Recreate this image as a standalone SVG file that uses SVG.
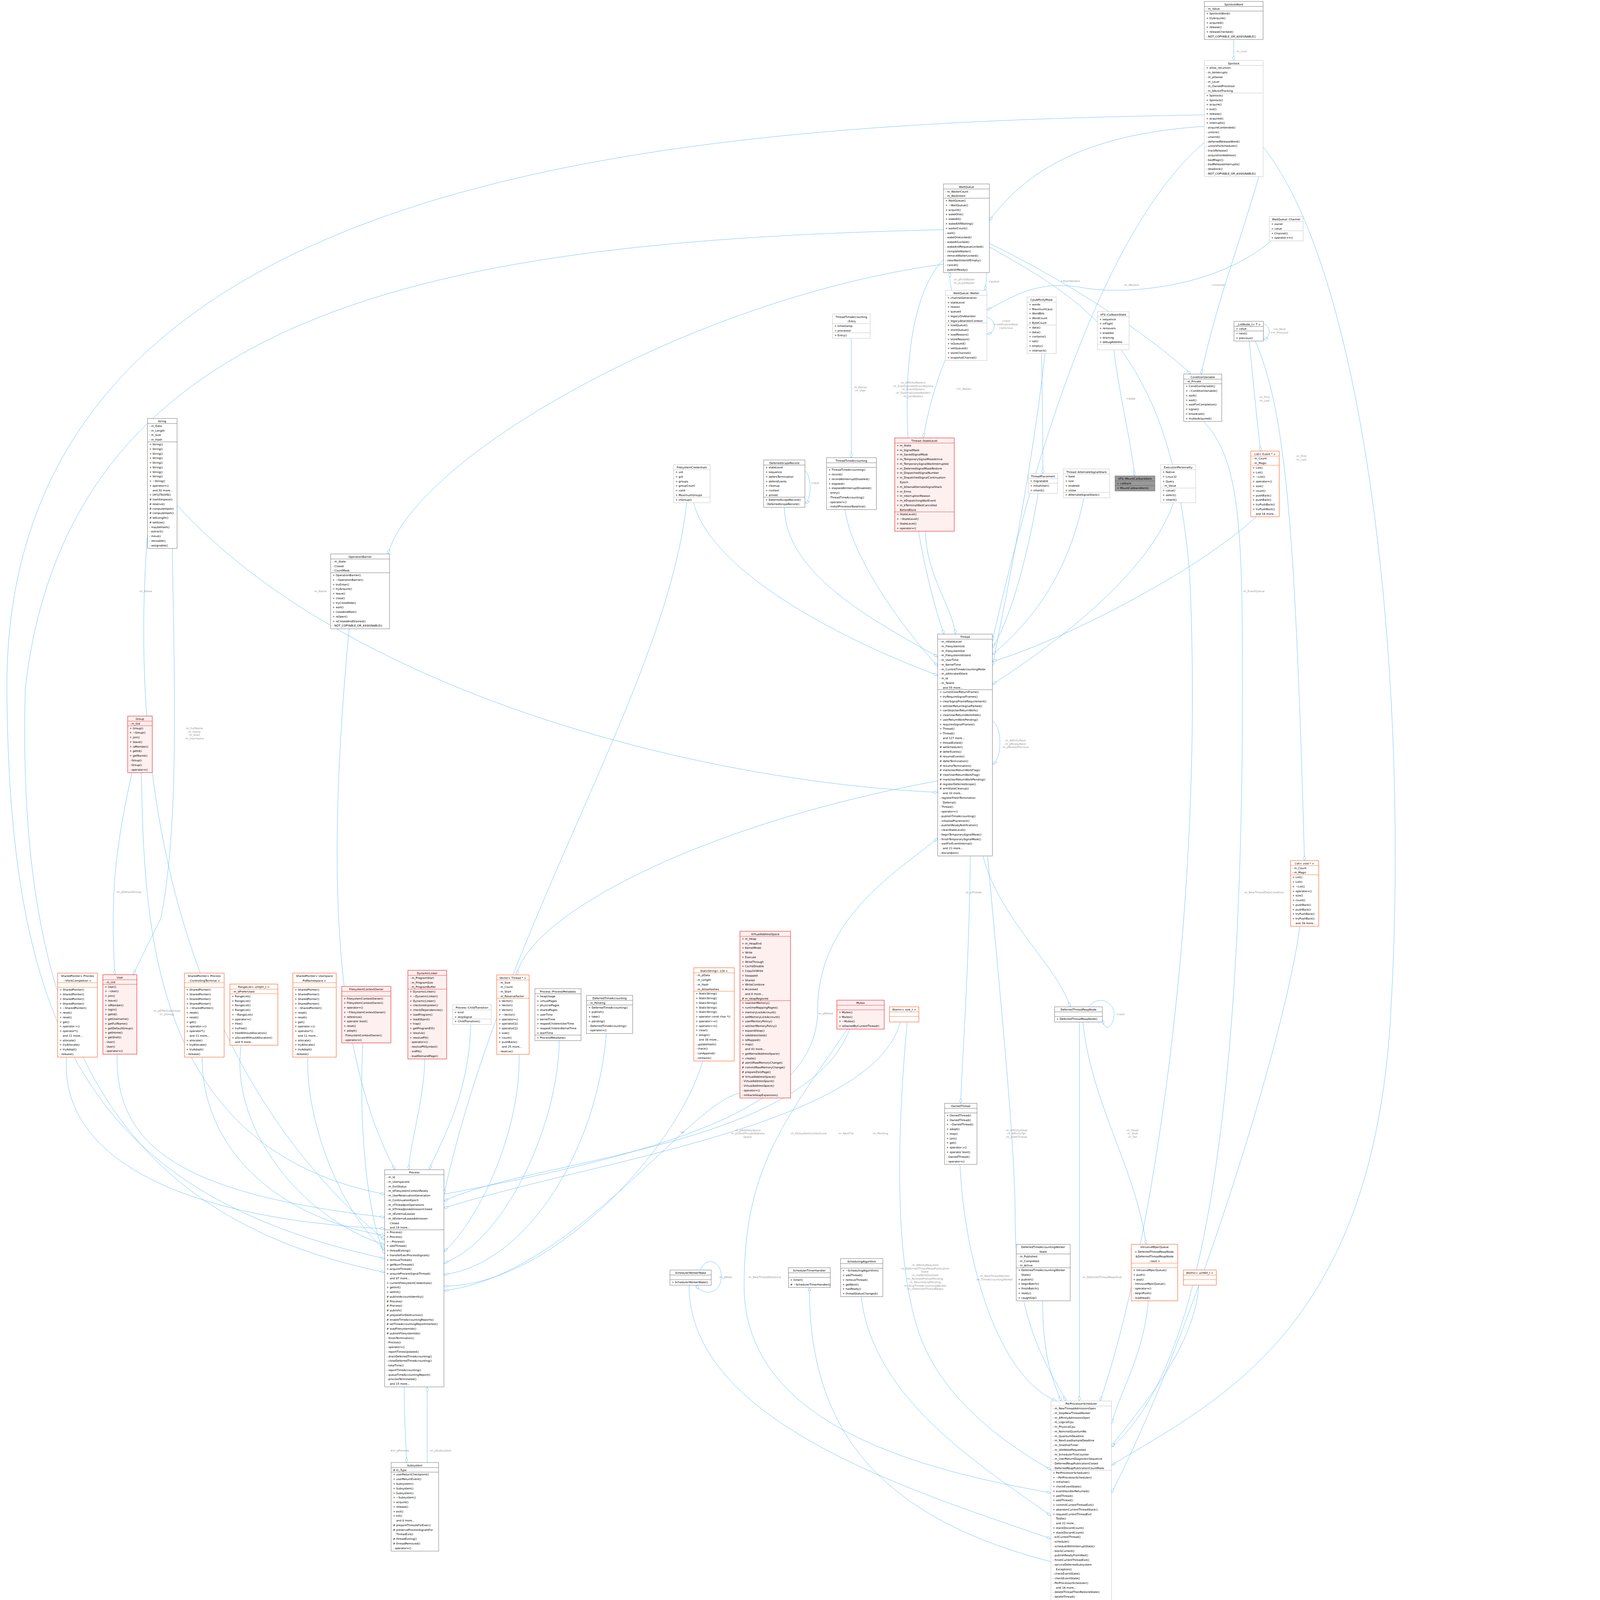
<svg xmlns="http://www.w3.org/2000/svg" width="6184" height="7011" viewBox="0 0 6184 7011" preserveAspectRatio="xMinYMin meet">
<style>
svg:root{width:3636px;height:4122px}
text{font-family:"DejaVu Sans","Liberation Sans",sans-serif;font-size:12px;fill:#000}
.t{text-anchor:middle}
.lb{fill:#9a9a9a;font-size:12px}
.lc{fill:#9a9a9a;font-size:12px;text-anchor:middle}
rect.n{fill:#fff;stroke:#666;stroke-width:1.5}
rect.l{fill:#fff;stroke:#bfbfbf;stroke-width:1.5}
rect.r{fill:#fff0f0;stroke:#f03030;stroke-width:2}
rect.o{fill:#fff;stroke:#ff6a33;stroke-width:2}
rect.g{fill:#999;stroke:#666;stroke-width:1.5}
line.sn{stroke:#666;stroke-width:1.5}
line.sl{stroke:#bfbfbf;stroke-width:1.5}
line.sr{stroke:#f03030;stroke-width:1.5}
line.so{stroke:#ff6a33;stroke-width:1.5}
line.sg{stroke:#666;stroke-width:1.5}
#edges path{fill:none;stroke:#63b8ff;stroke-width:1.5;marker-end:url(#d)}
#edges path.inh{marker-end:url(#tri)}
</style>
<defs>
<marker id="d" markerUnits="userSpaceOnUse" markerWidth="24" markerHeight="12" refX="22" refY="6" orient="auto"><path d="M1,6 L11,1 L22,6 L11,11 Z" fill="#fff" stroke="#63b8ff" stroke-width="1.5"/></marker>
<marker id="tri" markerUnits="userSpaceOnUse" markerWidth="16" markerHeight="14" refX="15" refY="7" orient="auto"><path d="M1,1 L15,7 L1,13 Z" fill="#fff" stroke="#63b8ff" stroke-width="1.5"/></marker>
</defs>
<rect width="6184" height="7011" fill="#fff"/>

<g id="edges">
<path d="M5372,172 L5372,263"/>
<path d="M5244,550 C4800,580 4500,700 4308,960"/>
<path d="M5244,620 C4800,1000 4500,2000 4321,2790"/>
<path d="M5244,500 C3000,540 20,700 30,3000 C40,4500 400,5200 1675,5480"/>
<path d="M5500,640 C5950,1200 6150,3000 6050,4500 C5950,5800 5300,6100 4840,6380"/>
<path d="M5500,700 C5420,1000 5300,1300 5230,1629"/>
<path d="M4295,1187 C4296,1220 4292,1240 4290,1264"/>
<path d="M4144,1264 C4135,1230 4135,1210 4137,1187"/>
<path d="M4297,1380 C4340,1395 4340,1445 4297,1455"/>
<path d="M5535,1049 C5300,1250 4900,1290 4700,1250 C4500,1220 4400,1300 4297,1350"/>
<path d="M4117,1565 C4060,1700 4030,1850 4020,1907"/>
<path d="M4108,1130 C3850,1400 3950,2300 4110,2761"/>
<path d="M4308,1060 C4600,1200 5000,1450 5185,1629"/>
<path d="M4308,1075 C4700,1300 5100,1500 5180,2500 C5250,4000 5000,5500 4790,6100"/>
<path d="M4108,1000 C2000,1050 300,1300 110,3000 C70,4500 500,5300 1675,5540"/>
<path d="M4108,1150 C3000,1300 1800,2000 1690,2412"/>
<path d="M4550,1539 C4500,2000 4400,2500 4321,2900"/>
<path d="M4535,1539 C4540,1800 4541,1950 4541,2062"/>
<path d="M4850,1523 C4870,1700 4930,1950 4940,2072"/>
<path d="M5501,1410 C5535,1420 5535,1470 5501,1478"/>
<path d="M5440,1485 C5460,1700 5480,1900 5490,1964"/>
<path d="M5466,1485 C5600,1800 5640,2300 5680,3747"/>
<path d="M5240,1835 C5400,2000 5410,2300 5410,3000 C5410,5000 5200,6000 4840,6300"/>
<path d="M5470,2250 C5200,2500 4600,2800 4321,2880"/>
<path d="M5660,4033 C5600,4500 5200,5800 4840,6500"/>
<path d="M3707,1473 L3707,1993"/>
<path d="M3680,2219 C3700,2400 3900,2700 4083,2900"/>
<path d="M4030,2313 C4030,2500 4150,2650 4160,2761"/>
<path d="M3505,2050 C3535,2070 3535,2180 3505,2190"/>
<path d="M3415,2209 C3420,2500 3800,2700 4083,2860"/>
<path d="M3020,2189 C3100,2500 3700,2800 4083,2940"/>
<path d="M2990,2189 C2900,3000 2200,4000 1933,5200"/>
<path d="M4520,2148 C4480,2400 4400,2700 4321,2820"/>
<path d="M4720,2168 C4650,2500 4500,2700 4321,2850"/>
<path d="M5110,2189 C5000,2500 4600,2800 4321,2980"/>
<path d="M4321,3140 C4365,3160 4365,3310 4321,3326"/>
<path d="M4225,3727 C4220,4200 4190,4600 4183,4804"/>
<path d="M4280,3727 C4350,4000 4600,4200 4660,4384"/>
<path d="M4300,3727 C4370,4500 4420,5000 4420,5300 C4420,5800 4600,6000 4640,6100"/>
<path d="M4083,3400 C3000,3600 2300,4000 2250,4245"/>
<path d="M1933,5200 C3000,5000 3560,4800 3560,4400 C3560,4000 3900,3800 4083,3650"/>
<path d="M771,2200 C1500,3000 3000,3400 4083,3450"/>
<path d="M642,2330 C590,3000 600,4500 1675,5400"/>
<path d="M750,2388 C760,3000 780,3600 700,4000 C650,4100 600,4200 580,4244"/>
<path d="M575,3364 C500,3700 480,3900 500,4244"/>
<path d="M615,3364 C630,4000 640,5000 1675,5200"/>
<path d="M510,4590 C500,5000 800,5200 1675,5300"/>
<path d="M290,4603 C260,5000 700,5300 1675,5350"/>
<path d="M880,4603 C880,5000 1200,5300 1675,5380"/>
<path d="M1050,4551 C1000,4900 1300,5300 1675,5420"/>
<path d="M1340,4603 C1330,4900 1500,5300 1675,5440"/>
<path d="M1580,4541 C1560,4900 1600,5300 1675,5460"/>
<path d="M1520,2738 C1450,3500 1400,4500 1720,5093"/>
<path d="M1850,4611 C1845,4800 1780,5000 1780,5093"/>
<path d="M2050,4461 C2040,4800 1900,5000 1870,5093"/>
<path d="M2260,4591 C2270,4900 2100,5300 1933,5450"/>
<path d="M2435,4531 C2430,4900 2200,5400 1933,5500"/>
<path d="M2640,4500 C2600,5000 2300,5500 1933,5550"/>
<path d="M3060,4620 C2950,5000 2400,5600 1933,5600"/>
<path d="M3222,4760 C3000,4800 2500,5550 1933,5620"/>
<path d="M3700,4481 C3500,5000 2300,5050 1933,5230"/>
<path d="M3920,4450 C3800,4900 2600,5050 1933,5260"/>
<path d="M3690,4481 C3400,4900 3240,5100 3240,5600 C3240,6200 4000,6400 4576,6500"/>
<path d="M3950,4450 C3900,5000 3900,5500 4000,5800 C4100,6100 4400,6300 4576,6400"/>
<path d="M4180,5070 C4200,5500 4350,6000 4600,6100"/>
<path d="M4740,4384 C4780,4330 4860,4360 4850,4430 C4840,4480 4810,4490 4800,4440"/>
<path d="M4715,4450 C4750,4800 4950,5100 4990,5418"/>
<path d="M4700,4450 L4700,6100"/>
<path d="M3050,5530 C3080,5460 3150,5500 3140,5570 C3130,5640 3060,5640 3030,5596"/>
<path d="M3000,5596 C3000,6200 4000,6500 4576,6700"/>
<path class="inh" d="M4576,6800 C3800,6600 3524,6200 3524,5606"/>
<path d="M3750,5646 C3800,6100 4300,6400 4576,6600"/>
<path d="M4540,5664 C4540,5900 4580,6000 4620,6100"/>
<path d="M5000,5664 C4980,5900 4880,6050 4840,6200"/>
<path d="M5220,5596 C5200,5900 4900,6200 4840,6300"/>
<path d="M1760,6039 C1760,6200 1770,6300 1770,6368"/>
<path d="M1860,6368 C1860,6200 1860,6100 1860,6039"/>
</g>

<g id="edge-labels">
<text class="lb" x="5380" y="228">-m_Lock</text>
<text class="lb" x="4150" y="1222">-m_pFirstWaiter</text><text class="lb" x="4150" y="1237">-m_pLastWaiter</text>
<text class="lb" x="4303" y="1230">+queue</text>
<text class="lc" x="4380" y="1402">+next</text><text class="lc" x="4380" y="1417">+notificationNext</text><text class="lc" x="4380" y="1432">+previous</text>
<text class="lb" x="5275" y="1245">+channel</text>
<text class="lb" x="4892" y="1245">-m_Waiters</text>
<text class="lb" x="4617" y="1228">+drainWaiters</text>
<text class="lb" x="4162" y="1698">+m_Waiter</text>
<text class="lc" x="3975" y="1670">-m_AffinityWaiters</text><text class="lc" x="3975" y="1685">-m_EventSenderDrainWaiters</text><text class="lc" x="3975" y="1700">-m_EventWaiters</text><text class="lc" x="3975" y="1715">-m_ExternalLeaseWaiters</text><text class="lc" x="3975" y="1730">-m_JoinWaiters</text>
<text class="lc" x="3745" y="1690">-m_Kernel</text><text class="lc" x="3745" y="1705">-m_User</text>
<text class="lb" x="4903" y="1740">+state</text>
<text class="lc" x="5570" y="1438">+m_Next</text><text class="lc" x="5570" y="1453">+m_Previous</text>
<text class="lc" x="5505" y="1733">-m_First</text><text class="lc" x="5505" y="1748">-m_Last</text>
<text class="lc" x="5665" y="1990">-m_First</text><text class="lc" x="5665" y="2005">-m_Last</text>
<text class="lb" x="3530" y="2108">+next</text>
<text class="lb" x="5410" y="2578">-m_EventQueue</text>
<text class="lb" x="5415" y="3890">-m_NewThreadDataCondition</text>
<text class="lc" x="4420" y="3228">-m_AffinityNext</text><text class="lc" x="4420" y="3243">-m_pReadyNext</text><text class="lc" x="4420" y="3258">-m_pReadyPrevious</text>
<text class="lb" x="4202" y="3890">-m_pThread</text>
<text class="lb" x="605" y="2578">-m_Name</text>
<text class="lb" x="1365" y="2578">-m_Name</text>
<text class="lc" x="845" y="3175">-m_FullName</text><text class="lc" x="845" y="3190">-m_Home</text><text class="lc" x="845" y="3205">-m_Shell</text><text class="lc" x="845" y="3220">-m_Username</text>
<text class="lb" x="505" y="3888">-m_pDefaultGroup</text>
<text class="lc" x="725" y="4405">-m_pEffectiveGroup</text><text class="lc" x="725" y="4420">-m_pGroup</text>
<text class="lb" x="2960" y="4935">-str</text>
<text class="lc" x="3255" y="4925">-m_pAddressSpace</text><text class="lc" x="3255" y="4940">-m_pVforkPrivateAddress</text><text class="lc" x="3255" y="4955">Space</text>
<text class="lb" x="3440" y="4940">-m_FilesystemContextLock</text>
<text class="lb" x="3648" y="4940">-m_NextTid</text>
<text class="lb" x="3798" y="4940">-m_Pending</text>
<text class="lb" x="3560" y="4418">-m_pParent</text>
<text class="lc" x="4425" y="4925">-m_AffinityHead</text><text class="lc" x="4425" y="4940">-m_AffinityTail</text><text class="lc" x="4425" y="4955">-m_pIdleThread</text>
<text class="lc" x="4930" y="4925">-m_Head</text><text class="lc" x="4930" y="4940">-m_Stub</text><text class="lc" x="4930" y="4955">-m_Tail</text>
<text class="lb" x="4860" y="4420">+next</text>
<text class="lb" x="3130" y="5565">-m_pNext</text>
<text class="lb" x="3255" y="5565">-m_NewThreadDataLock</text>
<text class="lc" x="4027" y="5512">-m_AffinityRequests</text><text class="lc" x="4027" y="5527">-m_DeferredThreadReapPublication</text><text class="lc" x="4027" y="5542">State</text><text class="lc" x="4027" y="5557">-m_IrqWorkDoorbell</text><text class="lc" x="4027" y="5572">-m_RemotePromptPending</text><text class="lc" x="4027" y="5587">-m_ReschedulePending</text><text class="lc" x="4027" y="5602">-m_StopTimeAccountingWorker</text><text class="lc" x="4027" y="5617">-m_nDeferredThreadReaps</text>
<text class="lc" x="4330" y="5560">-m_NewThreadWorker</text><text class="lc" x="4330" y="5575">-m_TimeAccountingWorker</text>
<text class="lb" x="4710" y="5565">-m_DeferredThreadReapStub</text>
<text class="lb" x="1700" y="6320">#m_pProcess</text>
<text class="lb" x="1870" y="6320">-m_pSubsystem</text>
</g>

<g id="SpinlockWord"><rect class="n" x="5244" y="6" width="256" height="166"/><line class="sn" x1="5244" y1="28" x2="5500" y2="28"/><line class="sn" x1="5244" y1="48" x2="5500" y2="48"/>
<text class="t" x="5372" y="23">SpinlockWord</text>
<text x="5252" y="23"><tspan x="5252" dy="20">- m_Value</tspan></text>
<text x="5252" y="43"><tspan x="5252" dy="20">+ SpinlockWord()</tspan><tspan x="5252" dy="20">+ tryAcquire()</tspan><tspan x="5252" dy="20">+ acquired()</tspan><tspan x="5252" dy="20">+ release()</tspan><tspan x="5252" dy="20">+ releaseChecked()</tspan><tspan x="5252" dy="20">- NOT_COPYABLE_OR_ASSIGNABLE()</tspan></text></g>

<g id="Spinlock"><rect class="l" x="5244" y="263" width="256" height="506"/><line class="sl" x1="5244" y1="285" x2="5500" y2="285"/><line class="sl" x1="5244" y1="405" x2="5500" y2="405"/>
<text class="t" x="5372" y="280">Spinlock</text>
<text x="5252" y="280"><tspan x="5252" dy="20">+ allow_recursion</tspan><tspan x="5252" dy="20">- m_bInterrupts</tspan><tspan x="5252" dy="20">- m_pOwner</tspan><tspan x="5252" dy="20">- m_Level</tspan><tspan x="5252" dy="20">- m_OwnedProcessor</tspan><tspan x="5252" dy="20">- m_bAvoidTracking</tspan></text>
<text x="5252" y="400"><tspan x="5252" dy="20">+ Spinlock()</tspan><tspan x="5252" dy="20">+ Spinlock()</tspan><tspan x="5252" dy="20">+ acquire()</tspan><tspan x="5252" dy="20">+ exit()</tspan><tspan x="5252" dy="20">+ release()</tspan><tspan x="5252" dy="20">+ acquired()</tspan><tspan x="5252" dy="20">+ interrupts()</tspan><tspan x="5252" dy="20">- acquireContended()</tspan><tspan x="5252" dy="20">- unlock()</tspan><tspan x="5252" dy="20">- unwind()</tspan><tspan x="5252" dy="20">- deferredReleaseWord()</tspan><tspan x="5252" dy="20">- unlockForScheduler()</tspan><tspan x="5252" dy="20">- trackRelease()</tspan><tspan x="5252" dy="20">- acquisitionAddress()</tspan><tspan x="5252" dy="20">- badMagic()</tspan><tspan x="5252" dy="20">- badReleaseInterrupts()</tspan><tspan x="5252" dy="20">- deadlock()</tspan><tspan x="5252" dy="20">- NOT_COPYABLE_OR_ASSIGNABLE()</tspan></text></g>

<g id="WaitQueue"><rect class="n" x="4108" y="801" width="200" height="386"/><line class="sn" x1="4108" y1="823" x2="4308" y2="823"/><line class="sn" x1="4108" y1="863" x2="4308" y2="863"/>
<text class="t" x="4208" y="818">WaitQueue</text>
<text x="4116" y="818"><tspan x="4116" dy="20">- m_WaiterCount</tspan><tspan x="4116" dy="20">- m_WaitIntent</tspan></text>
<text x="4116" y="858"><tspan x="4116" dy="20">+ WaitQueue()</tspan><tspan x="4116" dy="20">+ ~WaitQueue()</tspan><tspan x="4116" dy="20">+ acquire()</tspan><tspan x="4116" dy="20">+ wakeOne()</tspan><tspan x="4116" dy="20">+ wakeAll()</tspan><tspan x="4116" dy="20">+ wakeAllIfWaiting()</tspan><tspan x="4116" dy="20">+ waiterCount()</tspan><tspan x="4116" dy="20">- wait()</tspan><tspan x="4116" dy="20">- wakeOneLocked()</tspan><tspan x="4116" dy="20">- wakeAllLocked()</tspan><tspan x="4116" dy="20">- wakeAndRequeueLocked()</tspan><tspan x="4116" dy="20">- completeWaiter()</tspan><tspan x="4116" dy="20">- removeWaiterLocked()</tspan><tspan x="4116" dy="20">- clearWaitIntentIfEmpty()</tspan><tspan x="4116" dy="20">- cancel()</tspan><tspan x="4116" dy="20">- publishReady()</tspan></text></g>

<g id="WaitQueue_Waiter"><rect class="l" x="4117" y="1264" width="180" height="306"/><line class="sl" x1="4117" y1="1286" x2="4297" y2="1286"/><line class="sl" x1="4117" y1="1406" x2="4297" y2="1406"/>
<text class="t" x="4207" y="1281">WaitQueue::Waiter</text>
<text x="4125" y="1281"><tspan x="4125" dy="20">+ channelGeneration</tspan><tspan x="4125" dy="20">+ stateLevel</tspan><tspan x="4125" dy="20">+ reason</tspan><tspan x="4125" dy="20">+ queued</tspan><tspan x="4125" dy="20">+ legacyOnAbandon</tspan><tspan x="4125" dy="20">+ legacyAbandonContext</tspan></text>
<text x="4125" y="1401"><tspan x="4125" dy="20">+ loadQueue()</tspan><tspan x="4125" dy="20">+ storeQueue()</tspan><tspan x="4125" dy="20">+ loadReason()</tspan><tspan x="4125" dy="20">+ storeReason()</tspan><tspan x="4125" dy="20">+ isQueued()</tspan><tspan x="4125" dy="20">+ setQueued()</tspan><tspan x="4125" dy="20">+ storeChannel()</tspan><tspan x="4125" dy="20">+ snapshotChannel()</tspan></text></g>

<g id="CpuAffinityMask"><rect class="l" x="4472" y="1293" width="127" height="246"/><line class="sl" x1="4472" y1="1315" x2="4599" y2="1315"/><line class="sl" x1="4472" y1="1415" x2="4599" y2="1415"/>
<text class="t" x="4535" y="1310">CpuAffinityMask</text>
<text x="4480" y="1310"><tspan x="4480" dy="20">+ words</tspan><tspan x="4480" dy="20">+ MaximumCpus</tspan><tspan x="4480" dy="20">+ WordBits</tspan><tspan x="4480" dy="20">+ WordCount</tspan><tspan x="4480" dy="20">+ ByteCount</tspan></text>
<text x="4480" y="1410"><tspan x="4480" dy="20">+ data()</tspan><tspan x="4480" dy="20">+ data()</tspan><tspan x="4480" dy="20">+ contains()</tspan><tspan x="4480" dy="20">+ set()</tspan><tspan x="4480" dy="20">+ empty()</tspan><tspan x="4480" dy="20">+ intersect()</tspan></text></g>

<g id="WaitQueue_Channel"><rect class="l" x="5527" y="943" width="147" height="106"/><line class="sl" x1="5527" y1="965" x2="5674" y2="965"/><line class="sl" x1="5527" y1="1005" x2="5674" y2="1005"/>
<text class="t" x="5600" y="960">WaitQueue::Channel</text>
<text x="5535" y="960"><tspan x="5535" dy="20">+ owner</tspan><tspan x="5535" dy="20">+ value</tspan></text>
<text x="5535" y="1000"><tspan x="5535" dy="20">+ Channel()</tspan><tspan x="5535" dy="20">+ operator==()</tspan></text></g>

<g id="VFS_CallbackState"><rect class="l" x="4779" y="1357" width="137" height="166"/><line class="sl" x1="4779" y1="1379" x2="4916" y2="1379"/><line class="sl" x1="4779" y1="1499" x2="4916" y2="1499"/>
<text class="t" x="4847" y="1374">VFS::CallbackState</text>
<text x="4787" y="1374"><tspan x="4787" dy="20">+ sequence</tspan><tspan x="4787" dy="20">+ inFlight</tspan><tspan x="4787" dy="20">+ removers</tspan><tspan x="4787" dy="20">+ enabled</tspan><tspan x="4787" dy="20">+ draining</tspan><tspan x="4787" dy="20">+ debugAddress</tspan></text></g>

<g id="ListNode_t"><rect class="n" x="5373" y="1399" width="128" height="86"/><line class="sn" x1="5373" y1="1421" x2="5501" y2="1421"/><line class="sn" x1="5373" y1="1441" x2="5501" y2="1441"/>
<text class="t" x="5437" y="1416">_ListNode_t&lt; T &gt;</text>
<text x="5381" y="1416"><tspan x="5381" dy="20">+ value</tspan></text>
<text x="5381" y="1436"><tspan x="5381" dy="20">+ next()</tspan><tspan x="5381" dy="20">+ previous()</tspan></text></g>

<g id="ConditionVariable"><rect class="n" x="5154" y="1629" width="166" height="206"/><line class="sn" x1="5154" y1="1651" x2="5320" y2="1651"/><line class="sn" x1="5154" y1="1671" x2="5320" y2="1671"/>
<text class="t" x="5237" y="1646">ConditionVariable</text>
<text x="5162" y="1646"><tspan x="5162" dy="20">- m_Private</tspan></text>
<text x="5162" y="1666"><tspan x="5162" dy="20">+ ConditionVariable()</tspan><tspan x="5162" dy="20">+ ~ConditionVariable()</tspan><tspan x="5162" dy="20">+ wait()</tspan><tspan x="5162" dy="20">+ wait()</tspan><tspan x="5162" dy="20">+ waitForCompletion()</tspan><tspan x="5162" dy="20">+ signal()</tspan><tspan x="5162" dy="20">+ broadcast()</tspan><tspan x="5162" dy="20">+ mutexAcquired()</tspan></text></g>

<g id="ThreadTimeAccounting_Entry"><rect class="l" x="3625" y="1367" width="164" height="106"/><line class="sl" x1="3625" y1="1409" x2="3789" y2="1409"/><line class="sl" x1="3625" y1="1449" x2="3789" y2="1449"/>
<text class="t" x="3707" y="1384">ThreadTimeAccounting<tspan x="3707" dy="20">::Entry</tspan></text>
<text x="3633" y="1404"><tspan x="3633" dy="20">+ timestamp</tspan><tspan x="3633" dy="20">+ processor</tspan></text>
<text x="3633" y="1444"><tspan x="3633" dy="20">+ Entry()</tspan></text></g>

<g id="ThreadTimeAccounting"><rect class="n" x="3599" y="1993" width="217" height="226"/><line class="sn" x1="3599" y1="2015" x2="3816" y2="2015"/><line class="sn" x1="3599" y1="2035" x2="3816" y2="2035"/>
<text class="t" x="3707" y="2010">ThreadTimeAccounting</text>
<text x="3607" y="2030"><tspan x="3607" dy="20">+ ThreadTimeAccounting()</tspan><tspan x="3607" dy="20">+ record()</tspan><tspan x="3607" dy="20">+ recordAtInterruptDisabled()</tspan><tspan x="3607" dy="20">+ elapsed()</tspan><tspan x="3607" dy="20">+ elapsedAtInterruptDisabled()</tspan><tspan x="3607" dy="20">- entry()</tspan><tspan x="3607" dy="20">- ThreadTimeAccounting()</tspan><tspan x="3607" dy="20">- operator=()</tspan><tspan x="3607" dy="20">- installProcessorBaseline()</tspan></text></g>

<g id="Thread_StateLevel"><rect class="r" x="3896" y="1907" width="259" height="406"/><line class="sr" x1="3896" y1="1929" x2="4155" y2="1929"/><line class="sr" x1="3896" y1="2229" x2="4155" y2="2229"/>
<text class="t" x="4025" y="1924">Thread::StateLevel</text>
<text x="3904" y="1924"><tspan x="3904" dy="20">+ m_State</tspan><tspan x="3904" dy="20">+ m_SignalMask</tspan><tspan x="3904" dy="20">+ m_SavedSignalMask</tspan><tspan x="3904" dy="20">+ m_TemporarySignalMaskActive</tspan><tspan x="3904" dy="20">+ m_TemporarySignalWaitInterrupted</tspan><tspan x="3904" dy="20">+ m_DeferredSignalMaskRestore</tspan><tspan x="3904" dy="20">+ m_DispatchedSignalNumber</tspan><tspan x="3904" dy="20">+ m_DispatchedSignalContinuation</tspan><tspan x="3918" dy="20">Epoch</tspan><tspan x="3904" dy="20">+ m_bOwnsAlternateSignalStack</tspan><tspan x="3904" dy="20">+ m_Errno</tspan><tspan x="3904" dy="20">+ m_InterruptionReason</tspan><tspan x="3904" dy="20">+ m_bDispatchingWaitEvent</tspan><tspan x="3904" dy="20">+ m_bTerminalWaitCancelled</tspan><tspan x="3918" dy="20">BeforeBlock</tspan></text>
<text x="3904" y="2224"><tspan x="3904" dy="20">+ StateLevel()</tspan><tspan x="3904" dy="20">+ ~StateLevel()</tspan><tspan x="3904" dy="20">+ StateLevel()</tspan><tspan x="3904" dy="20">+ operator=()</tspan></text></g>

<g id="FilesystemCredentials"><rect class="l" x="2933" y="2023" width="159" height="166"/><line class="sl" x1="2933" y1="2045" x2="3092" y2="2045"/><line class="sl" x1="2933" y1="2165" x2="3092" y2="2165"/>
<text class="t" x="3012" y="2040">FilesystemCredentials</text>
<text x="2941" y="2040"><tspan x="2941" dy="20">+ uid</tspan><tspan x="2941" dy="20">+ gid</tspan><tspan x="2941" dy="20">+ groups</tspan><tspan x="2941" dy="20">+ groupCount</tspan><tspan x="2941" dy="20">+ valid</tspan><tspan x="2941" dy="20">+ MaximumGroups</tspan></text>
<text x="2941" y="2160"><tspan x="2941" dy="20">+ inGroup()</tspan></text></g>

<g id="DeferredScopeRecord"><rect class="n" x="3325" y="2003" width="180" height="206"/><line class="sn" x1="3325" y1="2025" x2="3505" y2="2025"/><line class="sn" x1="3325" y1="2165" x2="3505" y2="2165"/>
<text class="t" x="3415" y="2020">DeferredScopeRecord</text>
<text x="3333" y="2020"><tspan x="3333" dy="20">+ stateLevel</tspan><tspan x="3333" dy="20">+ sequence</tspan><tspan x="3333" dy="20">+ defersTermination</tspan><tspan x="3333" dy="20">+ defersEvents</tspan><tspan x="3333" dy="20">+ cleanup</tspan><tspan x="3333" dy="20">+ context</tspan><tspan x="3333" dy="20">+ armed</tspan></text>
<text x="3333" y="2160"><tspan x="3333" dy="20">+ DeferredScopeRecord()</tspan><tspan x="3333" dy="20">- DeferredScopeRecord()</tspan></text></g>

<g id="ThreadPlacement"><rect class="l" x="4477" y="2062" width="128" height="86"/><line class="sl" x1="4477" y1="2084" x2="4605" y2="2084"/><line class="sl" x1="4477" y1="2104" x2="4605" y2="2104"/>
<text class="t" x="4541" y="2079">ThreadPlacement</text>
<text x="4485" y="2079"><tspan x="4485" dy="20">+ migratable</tspan></text>
<text x="4485" y="2099"><tspan x="4485" dy="20">+ initialUser()</tspan><tspan x="4485" dy="20">+ inherit()</tspan></text></g>

<g id="Thread_AlternateSignalStack"><rect class="l" x="4630" y="2042" width="202" height="126"/><line class="sl" x1="4630" y1="2064" x2="4832" y2="2064"/><line class="sl" x1="4630" y1="2144" x2="4832" y2="2144"/>
<text class="t" x="4731" y="2059">Thread::AlternateSignalStack</text>
<text x="4638" y="2059"><tspan x="4638" dy="20">+ base</tspan><tspan x="4638" dy="20">+ size</tspan><tspan x="4638" dy="20">+ enabled</tspan><tspan x="4638" dy="20">+ inUse</tspan></text>
<text x="4638" y="2139"><tspan x="4638" dy="20">+ AlternateSignalStack()</tspan></text></g>

<g id="VFS_MountCallbackItem"><rect class="g" x="4855" y="2072" width="174" height="66"/><line class="sg" x1="4855" y1="2094" x2="5029" y2="2094"/><line class="sg" x1="4855" y1="2114" x2="5029" y2="2114"/>
<text class="t" x="4942" y="2089">VFS::MountCallbackItem</text>
<text x="4863" y="2089"><tspan x="4863" dy="20">+ callback</tspan></text>
<text x="4863" y="2109"><tspan x="4863" dy="20">+ MountCallbackItem()</tspan></text></g>

<g id="ExecutionPersonality"><rect class="l" x="5054" y="2023" width="152" height="166"/><line class="sl" x1="5054" y1="2045" x2="5206" y2="2045"/><line class="sl" x1="5054" y1="2125" x2="5206" y2="2125"/>
<text class="t" x="5130" y="2040">ExecutionPersonality</text>
<text x="5062" y="2040"><tspan x="5062" dy="20">+ Native</tspan><tspan x="5062" dy="20">+ Linux32</tspan><tspan x="5062" dy="20">+ Query</tspan><tspan x="5062" dy="20">- m_Value</tspan></text>
<text x="5062" y="2120"><tspan x="5062" dy="20">+ value()</tspan><tspan x="5062" dy="20">+ select()</tspan><tspan x="5062" dy="20">+ inherit()</tspan></text></g>

<g id="List_Event"><rect class="o" x="5446" y="1964" width="124" height="286"/><line class="so" x1="5446" y1="1986" x2="5570" y2="1986"/><line class="so" x1="5446" y1="2026" x2="5570" y2="2026"/>
<text class="t" x="5508" y="1981">List&lt; Event * &gt;</text>
<text x="5454" y="1981"><tspan x="5454" dy="20">- m_Count</tspan><tspan x="5454" dy="20">- m_Magic</tspan></text>
<text x="5454" y="2021"><tspan x="5454" dy="20">+ List()</tspan><tspan x="5454" dy="20">+ List()</tspan><tspan x="5454" dy="20">+ ~List()</tspan><tspan x="5454" dy="20">+ operator=()</tspan><tspan x="5454" dy="20">+ size()</tspan><tspan x="5454" dy="20">+ count()</tspan><tspan x="5454" dy="20">+ pushBack()</tspan><tspan x="5454" dy="20">+ pushBack()</tspan><tspan x="5454" dy="20">+ tryPushBack()</tspan><tspan x="5454" dy="20">+ tryPushBack()</tspan><tspan x="5468" dy="20">and 16 more...</tspan></text></g>

<g id="List_void"><rect class="o" x="5619" y="3747" width="123" height="286"/><line class="so" x1="5619" y1="3769" x2="5742" y2="3769"/><line class="so" x1="5619" y1="3809" x2="5742" y2="3809"/>
<text class="t" x="5680" y="3764">List&lt; void * &gt;</text>
<text x="5627" y="3764"><tspan x="5627" dy="20">- m_Count</tspan><tspan x="5627" dy="20">- m_Magic</tspan></text>
<text x="5627" y="3804"><tspan x="5627" dy="20">+ List()</tspan><tspan x="5627" dy="20">+ List()</tspan><tspan x="5627" dy="20">+ ~List()</tspan><tspan x="5627" dy="20">+ operator=()</tspan><tspan x="5627" dy="20">+ size()</tspan><tspan x="5627" dy="20">+ count()</tspan><tspan x="5627" dy="20">+ pushBack()</tspan><tspan x="5627" dy="20">+ pushBack()</tspan><tspan x="5627" dy="20">+ tryPushBack()</tspan><tspan x="5627" dy="20">+ tryPushBack()</tspan><tspan x="5641" dy="20">and 16 more...</tspan></text></g>

<g id="String"><rect class="n" x="642" y="1822" width="129" height="566"/><line class="sn" x1="642" y1="1844" x2="771" y2="1844"/><line class="sn" x1="642" y1="1924" x2="771" y2="1924"/>
<text class="t" x="706" y="1839">String</text>
<text x="650" y="1839"><tspan x="650" dy="20">- m_Data</tspan><tspan x="650" dy="20">- m_Length</tspan><tspan x="650" dy="20">- m_Size</tspan><tspan x="650" dy="20">- m_Hash</tspan></text>
<text x="650" y="1919"><tspan x="650" dy="20">+ String()</tspan><tspan x="650" dy="20">+ String()</tspan><tspan x="650" dy="20">+ String()</tspan><tspan x="650" dy="20">+ String()</tspan><tspan x="650" dy="20">+ String()</tspan><tspan x="650" dy="20">+ String()</tspan><tspan x="650" dy="20">+ String()</tspan><tspan x="650" dy="20">+ String()</tspan><tspan x="650" dy="20">+ ~String()</tspan><tspan x="650" dy="20">+ operator=()</tspan><tspan x="664" dy="20">and 50 more...</tspan><tspan x="650" dy="20">+ Utf32ToUtf8()</tspan><tspan x="650" dy="20"># iswhitespace()</tspan><tspan x="650" dy="20"># reserve()</tspan><tspan x="650" dy="20"># computeHash()</tspan><tspan x="650" dy="20"># computeHash()</tspan><tspan x="650" dy="20"># setLength()</tspan><tspan x="650" dy="20"># setSize()</tspan><tspan x="650" dy="20">- maybeHash()</tspan><tspan x="650" dy="20">- extract()</tspan><tspan x="650" dy="20">- move()</tspan><tspan x="650" dy="20">- resizable()</tspan><tspan x="650" dy="20">- assignable()</tspan></text></g>

<g id="OperationBarrier"><rect class="n" x="1440" y="2412" width="256" height="326"/><line class="sn" x1="1440" y1="2434" x2="1696" y2="2434"/><line class="sn" x1="1440" y1="2494" x2="1696" y2="2494"/>
<text class="t" x="1568" y="2429">OperationBarrier</text>
<text x="1448" y="2429"><tspan x="1448" dy="20">- m_State</tspan><tspan x="1448" dy="20">- Closed</tspan><tspan x="1448" dy="20">- CountMask</tspan></text>
<text x="1448" y="2489"><tspan x="1448" dy="20">+ OperationBarrier()</tspan><tspan x="1448" dy="20">+ ~OperationBarrier()</tspan><tspan x="1448" dy="20">+ tryEnter()</tspan><tspan x="1448" dy="20">+ tryAcquire()</tspan><tspan x="1448" dy="20">+ leave()</tspan><tspan x="1448" dy="20">+ close()</tspan><tspan x="1448" dy="20">+ tryCloseIfIdle()</tspan><tspan x="1448" dy="20">+ wait()</tspan><tspan x="1448" dy="20">+ closeAndWait()</tspan><tspan x="1448" dy="20">+ isOpen()</tspan><tspan x="1448" dy="20">+ isClosedAndDrained()</tspan><tspan x="1448" dy="20">- NOT_COPYABLE_OR_ASSIGNABLE()</tspan></text></g>

<g id="Group"><rect class="r" x="556" y="3118" width="107" height="246"/><line class="sr" x1="556" y1="3140" x2="663" y2="3140"/><line class="sr" x1="556" y1="3160" x2="663" y2="3160"/>
<text class="t" x="609" y="3135">Group</text>
<text x="564" y="3135"><tspan x="564" dy="20">- m_Gid</tspan></text>
<text x="564" y="3155"><tspan x="564" dy="20">+ Group()</tspan><tspan x="564" dy="20">+ ~Group()</tspan><tspan x="564" dy="20">+ join()</tspan><tspan x="564" dy="20">+ leave()</tspan><tspan x="564" dy="20">+ isMember()</tspan><tspan x="564" dy="20">+ getId()</tspan><tspan x="564" dy="20">+ getName()</tspan><tspan x="564" dy="20">- Group()</tspan><tspan x="564" dy="20">- Group()</tspan><tspan x="564" dy="20">- operator=()</tspan></text></g>

<g id="User"><rect class="r" x="448" y="4244" width="148" height="346"/><line class="sr" x1="448" y1="4266" x2="596" y2="4266"/><line class="sr" x1="448" y1="4286" x2="596" y2="4286"/>
<text class="t" x="522" y="4261">User</text>
<text x="456" y="4261"><tspan x="456" dy="20">- m_Uid</tspan></text>
<text x="456" y="4281"><tspan x="456" dy="20">+ User()</tspan><tspan x="456" dy="20">+ ~User()</tspan><tspan x="456" dy="20">+ join()</tspan><tspan x="456" dy="20">+ leave()</tspan><tspan x="456" dy="20">+ isMember()</tspan><tspan x="456" dy="20">+ login()</tspan><tspan x="456" dy="20">+ getId()</tspan><tspan x="456" dy="20">+ getUsername()</tspan><tspan x="456" dy="20">+ getFullName()</tspan><tspan x="456" dy="20">+ getDefaultGroup()</tspan><tspan x="456" dy="20">+ getHome()</tspan><tspan x="456" dy="20">+ getShell()</tspan><tspan x="456" dy="20">- User()</tspan><tspan x="456" dy="20">- User()</tspan><tspan x="456" dy="20">- operator=()</tspan></text></g>

<g id="SharedPointer_VforkCompletion"><rect class="o" x="251" y="4237" width="173" height="366"/><line class="so" x1="251" y1="4279" x2="424" y2="4279"/><line class="so" x1="251" y1="4299" x2="424" y2="4299"/>
<text class="t" x="337" y="4254">SharedPointer&lt; Process<tspan x="337" dy="20">::VforkCompletion &gt;</tspan></text>
<text x="259" y="4294"><tspan x="259" dy="20">+ SharedPointer()</tspan><tspan x="259" dy="20">+ SharedPointer()</tspan><tspan x="259" dy="20">+ SharedPointer()</tspan><tspan x="259" dy="20">+ SharedPointer()</tspan><tspan x="259" dy="20">+ ~SharedPointer()</tspan><tspan x="259" dy="20">+ reset()</tspan><tspan x="259" dy="20">+ reset()</tspan><tspan x="259" dy="20">+ get()</tspan><tspan x="259" dy="20">+ operator-&gt;()</tspan><tspan x="259" dy="20">+ operator*()</tspan><tspan x="273" dy="20">and 11 more...</tspan><tspan x="259" dy="20">+ allocate()</tspan><tspan x="259" dy="20">+ tryAllocate()</tspan><tspan x="259" dy="20">+ tryAdopt()</tspan><tspan x="259" dy="20">- release()</tspan></text></g>

<g id="SharedPointer_ControllingTerminal"><rect class="o" x="803" y="4237" width="173" height="366"/><line class="so" x1="803" y1="4279" x2="976" y2="4279"/><line class="so" x1="803" y1="4299" x2="976" y2="4299"/>
<text class="t" x="889" y="4254">SharedPointer&lt; Process<tspan x="889" dy="20">::ControllingTerminal &gt;</tspan></text>
<text x="811" y="4294"><tspan x="811" dy="20">+ SharedPointer()</tspan><tspan x="811" dy="20">+ SharedPointer()</tspan><tspan x="811" dy="20">+ SharedPointer()</tspan><tspan x="811" dy="20">+ SharedPointer()</tspan><tspan x="811" dy="20">+ ~SharedPointer()</tspan><tspan x="811" dy="20">+ reset()</tspan><tspan x="811" dy="20">+ reset()</tspan><tspan x="811" dy="20">+ get()</tspan><tspan x="811" dy="20">+ operator-&gt;()</tspan><tspan x="811" dy="20">+ operator*()</tspan><tspan x="825" dy="20">and 11 more...</tspan><tspan x="811" dy="20">+ allocate()</tspan><tspan x="811" dy="20">+ tryAllocate()</tspan><tspan x="811" dy="20">+ tryAdopt()</tspan><tspan x="811" dy="20">- release()</tspan></text></g>

<g id="RangeList"><rect class="o" x="1001" y="4285" width="209" height="266"/><line class="so" x1="1001" y1="4307" x2="1210" y2="4307"/><line class="so" x1="1001" y1="4327" x2="1210" y2="4327"/>
<text class="t" x="1105" y="4302">RangeList&lt; uintptr_t &gt;</text>
<text x="1009" y="4302"><tspan x="1009" dy="20">- m_bPreferUsed</tspan></text>
<text x="1009" y="4322"><tspan x="1009" dy="20">+ RangeList()</tspan><tspan x="1009" dy="20">+ RangeList()</tspan><tspan x="1009" dy="20">+ RangeList()</tspan><tspan x="1009" dy="20">+ RangeList()</tspan><tspan x="1009" dy="20">+ ~RangeList()</tspan><tspan x="1009" dy="20">+ operator=()</tspan><tspan x="1009" dy="20">+ free()</tspan><tspan x="1009" dy="20">+ tryFree()</tspan><tspan x="1009" dy="20">+ freeWithoutAllocation()</tspan><tspan x="1009" dy="20">+ allocateWithoutAllocation()</tspan><tspan x="1023" dy="20">and 9 more...</tspan></text></g>

<g id="SharedPointer_PidNamespace"><rect class="o" x="1275" y="4237" width="189" height="366"/><line class="so" x1="1275" y1="4279" x2="1464" y2="4279"/><line class="so" x1="1275" y1="4299" x2="1464" y2="4299"/>
<text class="t" x="1369" y="4254">SharedPointer&lt; Userspace<tspan x="1369" dy="20">PidNamespace &gt;</tspan></text>
<text x="1283" y="4294"><tspan x="1283" dy="20">+ SharedPointer()</tspan><tspan x="1283" dy="20">+ SharedPointer()</tspan><tspan x="1283" dy="20">+ SharedPointer()</tspan><tspan x="1283" dy="20">+ SharedPointer()</tspan><tspan x="1283" dy="20">+ ~SharedPointer()</tspan><tspan x="1283" dy="20">+ reset()</tspan><tspan x="1283" dy="20">+ reset()</tspan><tspan x="1283" dy="20">+ get()</tspan><tspan x="1283" dy="20">+ operator-&gt;()</tspan><tspan x="1283" dy="20">+ operator*()</tspan><tspan x="1297" dy="20">and 11 more...</tspan><tspan x="1283" dy="20">+ allocate()</tspan><tspan x="1283" dy="20">+ tryAllocate()</tspan><tspan x="1283" dy="20">+ tryAdopt()</tspan><tspan x="1283" dy="20">- release()</tspan></text></g>

<g id="FilesystemContextOwner"><rect class="r" x="1488" y="4295" width="214" height="246"/><line class="sr" x1="1488" y1="4317" x2="1702" y2="4317"/><line class="sr" x1="1488" y1="4337" x2="1702" y2="4337"/>
<text class="t" x="1595" y="4312">FilesystemContextOwner</text>
<text x="1496" y="4332"><tspan x="1496" dy="20">+ FilesystemContextOwner()</tspan><tspan x="1496" dy="20">+ FilesystemContextOwner()</tspan><tspan x="1496" dy="20">+ operator=()</tspan><tspan x="1496" dy="20">+ ~FilesystemContextOwner()</tspan><tspan x="1496" dy="20">+ reference()</tspan><tspan x="1496" dy="20">+ operator bool()</tspan><tspan x="1496" dy="20">+ reset()</tspan><tspan x="1496" dy="20">+ adopt()</tspan><tspan x="1496" dy="20">- FilesystemContextOwner()</tspan><tspan x="1496" dy="20">- operator=()</tspan></text></g>

<g id="DynamicLinker"><rect class="r" x="1776" y="4225" width="169" height="386"/><line class="sr" x1="1776" y1="4247" x2="1945" y2="4247"/><line class="sr" x1="1776" y1="4307" x2="1945" y2="4307"/>
<text class="t" x="1860" y="4242">DynamicLinker</text>
<text x="1784" y="4242"><tspan x="1784" dy="20">- m_ProgramStart</tspan><tspan x="1784" dy="20">- m_ProgramSize</tspan><tspan x="1784" dy="20">- m_ProgramBuffer</tspan></text>
<text x="1784" y="4302"><tspan x="1784" dy="20">+ DynamicLinker()</tspan><tspan x="1784" dy="20">+ ~DynamicLinker()</tspan><tspan x="1784" dy="20">+ DynamicLinker()</tspan><tspan x="1784" dy="20">+ checkInterpreter()</tspan><tspan x="1784" dy="20">+ checkDependencies()</tspan><tspan x="1784" dy="20">+ loadProgram()</tspan><tspan x="1784" dy="20">+ loadObject()</tspan><tspan x="1784" dy="20">+ trap()</tspan><tspan x="1784" dy="20">+ getProgramElf()</tspan><tspan x="1784" dy="20">+ resolve()</tspan><tspan x="1784" dy="20">+ resolvePlt()</tspan><tspan x="1784" dy="20">- operator=()</tspan><tspan x="1784" dy="20">- resolvePltSymbol()</tspan><tspan x="1784" dy="20">- initPlt()</tspan><tspan x="1784" dy="20">- loadDemandPage()</tspan></text></g>

<g id="Process_ChildTransition"><rect class="l" x="1971" y="4375" width="168" height="86"/><line class="sl" x1="1971" y1="4397" x2="2139" y2="4397"/><line class="sl" x1="1971" y1="4437" x2="2139" y2="4437"/>
<text class="t" x="2055" y="4392">Process::ChildTransition</text>
<text x="1979" y="4392"><tspan x="1979" dy="20">+ kind</tspan><tspan x="1979" dy="20">+ stopSignal</tspan></text>
<text x="1979" y="4432"><tspan x="1979" dy="20">+ ChildTransition()</tspan></text></g>

<g id="Vector_Thread"><rect class="o" x="2163" y="4245" width="141" height="346"/><line class="so" x1="2163" y1="4267" x2="2304" y2="4267"/><line class="so" x1="2163" y1="4347" x2="2304" y2="4347"/>
<text class="t" x="2233" y="4262">Vector&lt; Thread * &gt;</text>
<text x="2171" y="4262"><tspan x="2171" dy="20">- m_Size</tspan><tspan x="2171" dy="20">- m_Count</tspan><tspan x="2171" dy="20">- m_Start</tspan><tspan x="2171" dy="20">- m_ReserveFactor</tspan></text>
<text x="2171" y="4342"><tspan x="2171" dy="20">+ Vector()</tspan><tspan x="2171" dy="20">+ Vector()</tspan><tspan x="2171" dy="20">+ Vector()</tspan><tspan x="2171" dy="20">+ ~Vector()</tspan><tspan x="2171" dy="20">+ operator=()</tspan><tspan x="2171" dy="20">+ operator[]()</tspan><tspan x="2171" dy="20">+ operator[]()</tspan><tspan x="2171" dy="20">+ size()</tspan><tspan x="2171" dy="20">+ count()</tspan><tspan x="2171" dy="20">+ pushBack()</tspan><tspan x="2185" dy="20">and 25 more...</tspan><tspan x="2171" dy="20">- reserve()</tspan></text></g>

<g id="Process_ProcessMetadata"><rect class="n" x="2329" y="4305" width="201" height="226"/><line class="sn" x1="2329" y1="4327" x2="2530" y2="4327"/><line class="sn" x1="2329" y1="4507" x2="2530" y2="4507"/>
<text class="t" x="2429" y="4322">Process::ProcessMetadata</text>
<text x="2337" y="4322"><tspan x="2337" dy="20">+ heapUsage</tspan><tspan x="2337" dy="20">+ virtualPages</tspan><tspan x="2337" dy="20">+ physicalPages</tspan><tspan x="2337" dy="20">+ sharedPages</tspan><tspan x="2337" dy="20">+ userTime</tspan><tspan x="2337" dy="20">+ kernelTime</tspan><tspan x="2337" dy="20">+ reapedChildrenUserTime</tspan><tspan x="2337" dy="20">+ reapedChildrenKernelTime</tspan><tspan x="2337" dy="20">+ startTime</tspan></text>
<text x="2337" y="4502"><tspan x="2337" dy="20">+ ProcessMetadata()</tspan></text></g>

<g id="DeferredTimeAccounting"><rect class="n" x="2554" y="4334" width="201" height="166"/><line class="sn" x1="2554" y1="4356" x2="2755" y2="4356"/><line class="sn" x1="2554" y1="4376" x2="2755" y2="4376"/>
<text class="t" x="2654" y="4351">DeferredTimeAccounting</text>
<text x="2562" y="4351"><tspan x="2562" dy="20">- m_Pending</tspan></text>
<text x="2562" y="4371"><tspan x="2562" dy="20">+ DeferredTimeAccounting()</tspan><tspan x="2562" dy="20">+ publish()</tspan><tspan x="2562" dy="20">+ take()</tspan><tspan x="2562" dy="20">+ pending()</tspan><tspan x="2562" dy="20">- DeferredTimeAccounting()</tspan><tspan x="2562" dy="20">- operator=()</tspan></text></g>

<g id="StaticString"><rect class="o" x="3021" y="4214" width="176" height="406"/><line class="so" x1="3021" y1="4236" x2="3197" y2="4236"/><line class="so" x1="3021" y1="4316" x2="3197" y2="4316"/>
<text class="t" x="3109" y="4231">StaticString&lt; 128 &gt;</text>
<text x="3029" y="4231"><tspan x="3029" dy="20">- m_pData</tspan><tspan x="3029" dy="20">- m_Length</tspan><tspan x="3029" dy="20">- m_Hash</tspan><tspan x="3029" dy="20">- m_AllowHashes</tspan></text>
<text x="3029" y="4311"><tspan x="3029" dy="20">+ StaticString()</tspan><tspan x="3029" dy="20">+ StaticString()</tspan><tspan x="3029" dy="20">+ StaticString()</tspan><tspan x="3029" dy="20">+ StaticString()</tspan><tspan x="3029" dy="20">+ StaticString()</tspan><tspan x="3029" dy="20">+ operator const char *()</tspan><tspan x="3029" dy="20">+ operator+=()</tspan><tspan x="3029" dy="20">+ operator+=()</tspan><tspan x="3029" dy="20">+ clear()</tspan><tspan x="3029" dy="20">+ assign()</tspan><tspan x="3043" dy="20">and 38 more...</tspan><tspan x="3029" dy="20">- updateHash()</tspan><tspan x="3029" dy="20">- check()</tspan><tspan x="3029" dy="20">- canAppend()</tspan><tspan x="3029" dy="20">- contains()</tspan></text></g>

<g id="VirtualAddressSpace"><rect class="r" x="3222" y="4055" width="220" height="726"/><line class="sr" x1="3222" y1="4077" x2="3442" y2="4077"/><line class="sr" x1="3222" y1="4357" x2="3442" y2="4357"/>
<text class="t" x="3332" y="4072">VirtualAddressSpace</text>
<text x="3230" y="4072"><tspan x="3230" dy="20">+ m_Heap</tspan><tspan x="3230" dy="20">+ m_HeapEnd</tspan><tspan x="3230" dy="20">+ KernelMode</tspan><tspan x="3230" dy="20">+ Write</tspan><tspan x="3230" dy="20">+ Execute</tspan><tspan x="3230" dy="20">+ WriteThrough</tspan><tspan x="3230" dy="20">+ CacheDisable</tspan><tspan x="3230" dy="20">+ CopyOnWrite</tspan><tspan x="3230" dy="20">+ Swapped</tspan><tspan x="3230" dy="20">+ Shared</tspan><tspan x="3230" dy="20">+ WriteCombine</tspan><tspan x="3230" dy="20">+ Accessed</tspan><tspan x="3244" dy="20">and 8 more...</tspan><tspan x="3230" dy="20"># m_HeapRegionId</tspan></text>
<text x="3230" y="4352"><tspan x="3230" dy="20">+ rawUserMemory()</tspan><tspan x="3230" dy="20">+ runtimeMappingPages()</tspan><tspan x="3230" dy="20">+ memoryLockAccount()</tspan><tspan x="3230" dy="20">+ setMemoryLockAccount()</tspan><tspan x="3230" dy="20">+ userMemoryPolicy()</tspan><tspan x="3230" dy="20">+ setUserMemoryPolicy()</tspan><tspan x="3230" dy="20">+ expandHeap()</tspan><tspan x="3230" dy="20">+ isAddressValid()</tspan><tspan x="3230" dy="20">+ isMapped()</tspan><tspan x="3230" dy="20">+ map()</tspan><tspan x="3244" dy="20">and 43 more...</tspan><tspan x="3230" dy="20">+ getKernelAddressSpace()</tspan><tspan x="3230" dy="20">+ create()</tspan><tspan x="3230" dy="20"># admitRawMemoryChange()</tspan><tspan x="3230" dy="20"># commitRawMemoryChange()</tspan><tspan x="3230" dy="20"># prepareZeroPage()</tspan><tspan x="3230" dy="20"># VirtualAddressSpace()</tspan><tspan x="3230" dy="20">- VirtualAddressSpace()</tspan><tspan x="3230" dy="20">- VirtualAddressSpace()</tspan><tspan x="3230" dy="20">- operator=()</tspan><tspan x="3230" dy="20">- rollbackHeapExpansion()</tspan></text></g>

<g id="Mutex"><rect class="r" x="3644" y="4355" width="206" height="126"/><line class="sr" x1="3644" y1="4377" x2="3850" y2="4377"/><line class="sr" x1="3644" y1="4397" x2="3850" y2="4397"/>
<text class="t" x="3747" y="4372">Mutex</text>
<text x="3652" y="4392"><tspan x="3652" dy="20">+ Mutex()</tspan><tspan x="3652" dy="20">+ Mutex()</tspan><tspan x="3652" dy="20">+ ~Mutex()</tspan><tspan x="3652" dy="20">+ isOwnedByCurrentThread()</tspan></text></g>

<g id="Atomic_size_t"><rect class="o" x="3873" y="4384" width="128" height="66"/><line class="so" x1="3873" y1="4406" x2="4001" y2="4406"/><line class="so" x1="3873" y1="4426" x2="4001" y2="4426"/>
<text class="t" x="3937" y="4401">Atomic&lt; size_t &gt;</text></g>

<g id="DeferredThreadReapNode"><rect class="n" x="4592" y="4384" width="208" height="66"/><line class="sn" x1="4592" y1="4406" x2="4800" y2="4406"/><line class="sn" x1="4592" y1="4426" x2="4800" y2="4426"/>
<text class="t" x="4696" y="4401">DeferredThreadReapNode</text>
<text x="4600" y="4421"><tspan x="4600" dy="20">+ DeferredThreadReapNode()</tspan></text></g>

<g id="OwnedThread"><rect class="n" x="4113" y="4804" width="141" height="266"/><line class="sn" x1="4113" y1="4826" x2="4254" y2="4826"/><line class="sn" x1="4113" y1="4846" x2="4254" y2="4846"/>
<text class="t" x="4183" y="4821">OwnedThread</text>
<text x="4121" y="4841"><tspan x="4121" dy="20">+ OwnedThread()</tspan><tspan x="4121" dy="20">+ OwnedThread()</tspan><tspan x="4121" dy="20">+ ~OwnedThread()</tspan><tspan x="4121" dy="20">+ adopt()</tspan><tspan x="4121" dy="20">+ stop()</tspan><tspan x="4121" dy="20">+ join()</tspan><tspan x="4121" dy="20">+ get()</tspan><tspan x="4121" dy="20">+ operator-&gt;()</tspan><tspan x="4121" dy="20">+ operator bool()</tspan><tspan x="4121" dy="20">- OwnedThread()</tspan><tspan x="4121" dy="20">- operator=()</tspan></text></g>

<g id="SchedulerWorkerWake"><rect class="n" x="2917" y="5530" width="180" height="66"/><line class="sn" x1="2917" y1="5552" x2="3097" y2="5552"/><line class="sn" x1="2917" y1="5572" x2="3097" y2="5572"/>
<text class="t" x="3007" y="5547">SchedulerWorkerWake</text>
<text x="2925" y="5567"><tspan x="2925" dy="20">+ SchedulerWorkerWake()</tspan></text></g>

<g id="SchedulerTimerHandler"><rect class="n" x="3433" y="5520" width="182" height="86"/><line class="sn" x1="3433" y1="5542" x2="3615" y2="5542"/><line class="sn" x1="3433" y1="5562" x2="3615" y2="5562"/>
<text class="t" x="3524" y="5537">SchedulerTimerHandler</text>
<text x="3441" y="5557"><tspan x="3441" dy="20">+ timer()</tspan><tspan x="3441" dy="20"># ~SchedulerTimerHandler()</tspan></text></g>

<g id="SchedulingAlgorithm"><rect class="n" x="3660" y="5480" width="184" height="166"/><line class="sn" x1="3660" y1="5502" x2="3844" y2="5502"/><line class="sn" x1="3660" y1="5522" x2="3844" y2="5522"/>
<text class="t" x="3752" y="5497">SchedulingAlgorithm</text>
<text x="3668" y="5517"><tspan x="3668" dy="20">+ ~SchedulingAlgorithm()</tspan><tspan x="3668" dy="20">+ addThread()</tspan><tspan x="3668" dy="20">+ removeThread()</tspan><tspan x="3668" dy="20">+ getNext()</tspan><tspan x="3668" dy="20">+ hasReady()</tspan><tspan x="3668" dy="20">+ threadStatusChanged()</tspan></text></g>

<g id="DeferredTimeAccountingWorkerState"><rect class="n" x="4425" y="5418" width="235" height="246"/><line class="sn" x1="4425" y1="5460" x2="4660" y2="5460"/><line class="sn" x1="4425" y1="5520" x2="4660" y2="5520"/>
<text class="t" x="4542" y="5435">DeferredTimeAccountingWorker<tspan x="4542" dy="20">State</tspan></text>
<text x="4433" y="5455"><tspan x="4433" dy="20">- m_Published</tspan><tspan x="4433" dy="20">- m_Completed</tspan><tspan x="4433" dy="20">- m_Active</tspan></text>
<text x="4433" y="5515"><tspan x="4433" dy="20">+ DeferredTimeAccountingWorker</tspan><tspan x="4447" dy="20">State()</tspan><tspan x="4433" dy="20">+ publish()</tspan><tspan x="4433" dy="20">+ beginBatch()</tspan><tspan x="4433" dy="20">+ finishBatch()</tspan><tspan x="4433" dy="20">+ ready()</tspan><tspan x="4433" dy="20">+ caughtUp()</tspan></text></g>

<g id="IntrusiveMpscQueue"><rect class="o" x="4926" y="5418" width="202" height="246"/><line class="so" x1="4926" y1="5500" x2="5128" y2="5500"/><line class="so" x1="4926" y1="5520" x2="5128" y2="5520"/>
<text class="t" x="5027" y="5435">IntrusiveMpscQueue<tspan x="5027" dy="20">&lt; DeferredThreadReapNode,</tspan><tspan x="5027" dy="20">&amp;DeferredThreadReapNode</tspan><tspan x="5027" dy="20">::next &gt;</tspan></text>
<text x="4934" y="5515"><tspan x="4934" dy="20">+ IntrusiveMpscQueue()</tspan><tspan x="4934" dy="20">+ push()</tspan><tspan x="4934" dy="20">+ pop()</tspan><tspan x="4934" dy="20">- IntrusiveMpscQueue()</tspan><tspan x="4934" dy="20">- operator=()</tspan><tspan x="4934" dy="20">- beginPush()</tspan><tspan x="4934" dy="20">- loadHead()</tspan></text></g>

<g id="Atomic_uint64_t"><rect class="o" x="5153" y="5530" width="143" height="66"/><line class="so" x1="5153" y1="5552" x2="5296" y2="5552"/><line class="so" x1="5153" y1="5572" x2="5296" y2="5572"/>
<text class="t" x="5224" y="5547">Atomic&lt; uint64_t &gt;</text></g>

<g id="Thread"><rect class="n" x="4083" y="2761" width="238" height="966"/><line class="sn" x1="4083" y1="2783" x2="4321" y2="2783"/><line class="sn" x1="4083" y1="3003" x2="4321" y2="3003"/>
<text class="t" x="4202" y="2778">Thread</text>
<text x="4091" y="2778"><tspan x="4091" dy="20">- m_nStateLevel</tspan><tspan x="4091" dy="20">- m_FilesystemUid</tspan><tspan x="4091" dy="20">- m_FilesystemGid</tspan><tspan x="4091" dy="20">- m_FilesystemIdsValid</tspan><tspan x="4091" dy="20">- m_UserTime</tspan><tspan x="4091" dy="20">- m_KernelTime</tspan><tspan x="4091" dy="20">- m_CurrentTimeAccountingMode</tspan><tspan x="4091" dy="20">- m_pAllocatedStack</tspan><tspan x="4091" dy="20">- m_Id</tspan><tspan x="4091" dy="20">- m_TaskId</tspan><tspan x="4105" dy="20">and 55 more...</tspan></text>
<text x="4091" y="2998"><tspan x="4091" dy="20">+ currentUserReturnFrame()</tspan><tspan x="4091" dy="20">+ tryRequireSignalFrames()</tspan><tspan x="4091" dy="20">+ clearSignalFrameRequirement()</tspan><tspan x="4091" dy="20">+ setUserReturnSignalParked()</tspan><tspan x="4091" dy="20">+ canSkipUserReturnWork()</tspan><tspan x="4091" dy="20">+ clearUserReturnWorkIfIdle()</tspan><tspan x="4091" dy="20">+ userReturnWorkPending()</tspan><tspan x="4091" dy="20">+ requiresSignalFrames()</tspan><tspan x="4091" dy="20">+ Thread()</tspan><tspan x="4091" dy="20">+ Thread()</tspan><tspan x="4105" dy="20">and 127 more...</tspan><tspan x="4091" dy="20">+ threadExited()</tspan><tspan x="4091" dy="20"># setScheduler()</tspan><tspan x="4091" dy="20"># deferEvents()</tspan><tspan x="4091" dy="20"># resumeEvents()</tspan><tspan x="4091" dy="20"># deferTermination()</tspan><tspan x="4091" dy="20"># resumeTermination()</tspan><tspan x="4091" dy="20"># markUserReturnWorkFlag()</tspan><tspan x="4091" dy="20"># clearUserReturnWorkFlag()</tspan><tspan x="4091" dy="20"># markUserReturnWorkPending()</tspan><tspan x="4091" dy="20"># registerDeferredScope()</tspan><tspan x="4091" dy="20"># armStateCleanup()</tspan><tspan x="4105" dy="20">and 10 more...</tspan><tspan x="4091" dy="20">- registerFreshTermination</tspan><tspan x="4105" dy="20">Deferral()</tspan><tspan x="4091" dy="20">- Thread()</tspan><tspan x="4091" dy="20">- operator=()</tspan><tspan x="4091" dy="20">- publishTimeAccounting()</tspan><tspan x="4091" dy="20">- initialisePlacement()</tspan><tspan x="4091" dy="20">- publishReadyNotification()</tspan><tspan x="4091" dy="20">- cleanStateLevel()</tspan><tspan x="4091" dy="20">- beginTemporarySignalMask()</tspan><tspan x="4091" dy="20">- finishTemporarySignalMask()</tspan><tspan x="4091" dy="20">- waitForEventInternal()</tspan><tspan x="4105" dy="20">and 23 more...</tspan><tspan x="4091" dy="20">- discardJoin()</tspan></text></g>

<g id="Process"><rect class="n" x="1675" y="5093" width="258" height="946"/><line class="sn" x1="1675" y1="5115" x2="1933" y2="5115"/><line class="sn" x1="1675" y1="5355" x2="1933" y2="5355"/>
<text class="t" x="1804" y="5110">Process</text>
<text x="1683" y="5110"><tspan x="1683" dy="20">- m_Id</tspan><tspan x="1683" dy="20">- m_UserspaceId</tspan><tspan x="1683" dy="20">- m_ExitStatus</tspan><tspan x="1683" dy="20">- m_bFilesystemContextReady</tspan><tspan x="1683" dy="20">- m_UserReservationGeneration</tspan><tspan x="1683" dy="20">- m_ContinuationEpoch</tspan><tspan x="1683" dy="20">- m_nThreadJoinOperations</tspan><tspan x="1683" dy="20">- m_bThreadJoinAdmissionClosed</tspan><tspan x="1683" dy="20">- m_nExternalLeases</tspan><tspan x="1683" dy="20">- m_bExternalLeaseAdmission</tspan><tspan x="1697" dy="20">Closed</tspan><tspan x="1697" dy="20">and 19 more...</tspan></text>
<text x="1683" y="5350"><tspan x="1683" dy="20">+ Process()</tspan><tspan x="1683" dy="20">+ Process()</tspan><tspan x="1683" dy="20">+ ~Process()</tspan><tspan x="1683" dy="20">+ addThread()</tspan><tspan x="1683" dy="20">+ threadExiting()</tspan><tspan x="1683" dy="20">+ transferExecProcessSignals()</tspan><tspan x="1683" dy="20">+ removeThread()</tspan><tspan x="1683" dy="20">+ getNumThreads()</tspan><tspan x="1683" dy="20">+ acquireThread()</tspan><tspan x="1683" dy="20">+ acquireProcessSignalThread()</tspan><tspan x="1697" dy="20">and 87 more...</tspan><tspan x="1683" dy="20">+ currentFilesystemCredentials()</tspan><tspan x="1683" dy="20">+ getInit()</tspan><tspan x="1683" dy="20">+ setInit()</tspan><tspan x="1683" dy="20"># publishAccountIdentity()</tspan><tspan x="1683" dy="20"># Process()</tspan><tspan x="1683" dy="20"># Process()</tspan><tspan x="1683" dy="20"># publish()</tspan><tspan x="1683" dy="20"># prepareForDestruction()</tspan><tspan x="1683" dy="20"># enableTimeAccountingReports()</tspan><tspan x="1683" dy="20"># setTimeAccountingReportInterest()</tspan><tspan x="1683" dy="20"># loadFilesystemIds()</tspan><tspan x="1683" dy="20"># publishFilesystemIds()</tspan><tspan x="1683" dy="20">- finishTermination()</tspan><tspan x="1683" dy="20">- Process()</tspan><tspan x="1683" dy="20">- operator=()</tspan><tspan x="1683" dy="20">- reportTimesUpdated()</tspan><tspan x="1683" dy="20">- drainDeferredTimeAccounting()</tspan><tspan x="1683" dy="20">- closeDeferredTimeAccounting()</tspan><tspan x="1683" dy="20">- totalTime()</tspan><tspan x="1683" dy="20">- reportTimeAccounting()</tspan><tspan x="1683" dy="20">- queueTimeAccountingReport()</tspan><tspan x="1683" dy="20">- processTerminated()</tspan><tspan x="1697" dy="20">and 15 more...</tspan></text></g>

<g id="Subsystem"><rect class="n" x="1703" y="6368" width="207" height="386"/><line class="sn" x1="1703" y1="6390" x2="1910" y2="6390"/><line class="sn" x1="1703" y1="6410" x2="1910" y2="6410"/>
<text class="t" x="1806" y="6385">Subsystem</text>
<text x="1711" y="6385"><tspan x="1711" dy="20"># m_Type</tspan></text>
<text x="1711" y="6405"><tspan x="1711" dy="20">+ userReturnCheckpoint()</tspan><tspan x="1711" dy="20">+ userReturnEvent()</tspan><tspan x="1711" dy="20">+ Subsystem()</tspan><tspan x="1711" dy="20">+ Subsystem()</tspan><tspan x="1711" dy="20">+ Subsystem()</tspan><tspan x="1711" dy="20">+ ~Subsystem()</tspan><tspan x="1711" dy="20">+ acquire()</tspan><tspan x="1711" dy="20">+ release()</tspan><tspan x="1711" dy="20">+ exit()</tspan><tspan x="1711" dy="20">+ kill()</tspan><tspan x="1725" dy="20">and 8 more...</tspan><tspan x="1711" dy="20"># prepareThreadsForExec()</tspan><tspan x="1711" dy="20"># preserveProcessSignalsFor</tspan><tspan x="1725" dy="20">ThreadExit()</tspan><tspan x="1711" dy="20"># threadExiting()</tspan><tspan x="1711" dy="20"># threadRemoved()</tspan><tspan x="1711" dy="20">- operator=()</tspan></text></g>

<g id="PerProcessorScheduler"><rect class="l" x="4576" y="6100" width="264" height="906"/><line class="sl" x1="4576" y1="6122" x2="4840" y2="6122"/><line class="sl" x1="4576" y1="6402" x2="4840" y2="6402"/>
<text class="t" x="4708" y="6117">PerProcessorScheduler</text>
<text x="4584" y="6117"><tspan x="4584" dy="20">- m_NewThreadAdmissionOpen</tspan><tspan x="4584" dy="20">- m_StopNewThreadWorker</tspan><tspan x="4584" dy="20">- m_AffinityAdmissionOpen</tspan><tspan x="4584" dy="20">- m_LogicalCpu</tspan><tspan x="4584" dy="20">- m_PhysicalCpu</tspan><tspan x="4584" dy="20">- m_NominalQuantumNs</tspan><tspan x="4584" dy="20">- m_QuantumDeadline</tspan><tspan x="4584" dy="20">- m_NextLoadSampleDeadline</tspan><tspan x="4584" dy="20">- m_OneShotTimer</tspan><tspan x="4584" dy="20">- m_IdleWakeRequested</tspan><tspan x="4584" dy="20">- m_SchedulerTickCounter</tspan><tspan x="4584" dy="20">- m_UserReturnDiagnosticSequence</tspan><tspan x="4584" dy="20">- DeferredReapPublicationClosed</tspan><tspan x="4584" dy="20">- DeferredReapPublicationCountMask</tspan></text>
<text x="4584" y="6397"><tspan x="4584" dy="20">+ PerProcessorScheduler()</tspan><tspan x="4584" dy="20">+ ~PerProcessorScheduler()</tspan><tspan x="4584" dy="20">+ initialise()</tspan><tspan x="4584" dy="20">+ checkEventState()</tspan><tspan x="4584" dy="20">+ eventHandlerReturned()</tspan><tspan x="4584" dy="20">+ addThread()</tspan><tspan x="4584" dy="20">+ addThread()</tspan><tspan x="4584" dy="20">+ commitCurrentThreadExit()</tspan><tspan x="4584" dy="20">+ abandonCurrentThreadStack()</tspan><tspan x="4584" dy="20">+ requestCurrentThreadExit</tspan><tspan x="4598" dy="20">ToIdle()</tspan><tspan x="4598" dy="20">and 22 more...</tspan><tspan x="4584" dy="20">+ stackDiscardCount()</tspan><tspan x="4584" dy="20">+ stackDiscardCount()</tspan><tspan x="4584" dy="20">- killCurrentThread()</tspan><tspan x="4584" dy="20">- schedule()</tspan><tspan x="4584" dy="20">- scheduleWithInterruptState()</tspan><tspan x="4584" dy="20">- blockCurrent()</tspan><tspan x="4584" dy="20">- publishReadyFromWait()</tspan><tspan x="4584" dy="20">- finishCurrentThreadExit()</tspan><tspan x="4584" dy="20">- serviceDeferredSubsystem</tspan><tspan x="4598" dy="20">Exception()</tspan><tspan x="4584" dy="20">- checkEventState()</tspan><tspan x="4584" dy="20">- checkEventState()</tspan><tspan x="4584" dy="20">- PerProcessorScheduler()</tspan><tspan x="4598" dy="20">and 16 more...</tspan><tspan x="4584" dy="20">- deleteThreadThenRestoreState()</tspan><tspan x="4584" dy="20">- deleteThread()</tspan><tspan x="4584" dy="20">- timeAccountingWorkerEntry()</tspan><tspan x="4584" dy="20">- processorAddThread()</tspan></text></g>
</svg>
